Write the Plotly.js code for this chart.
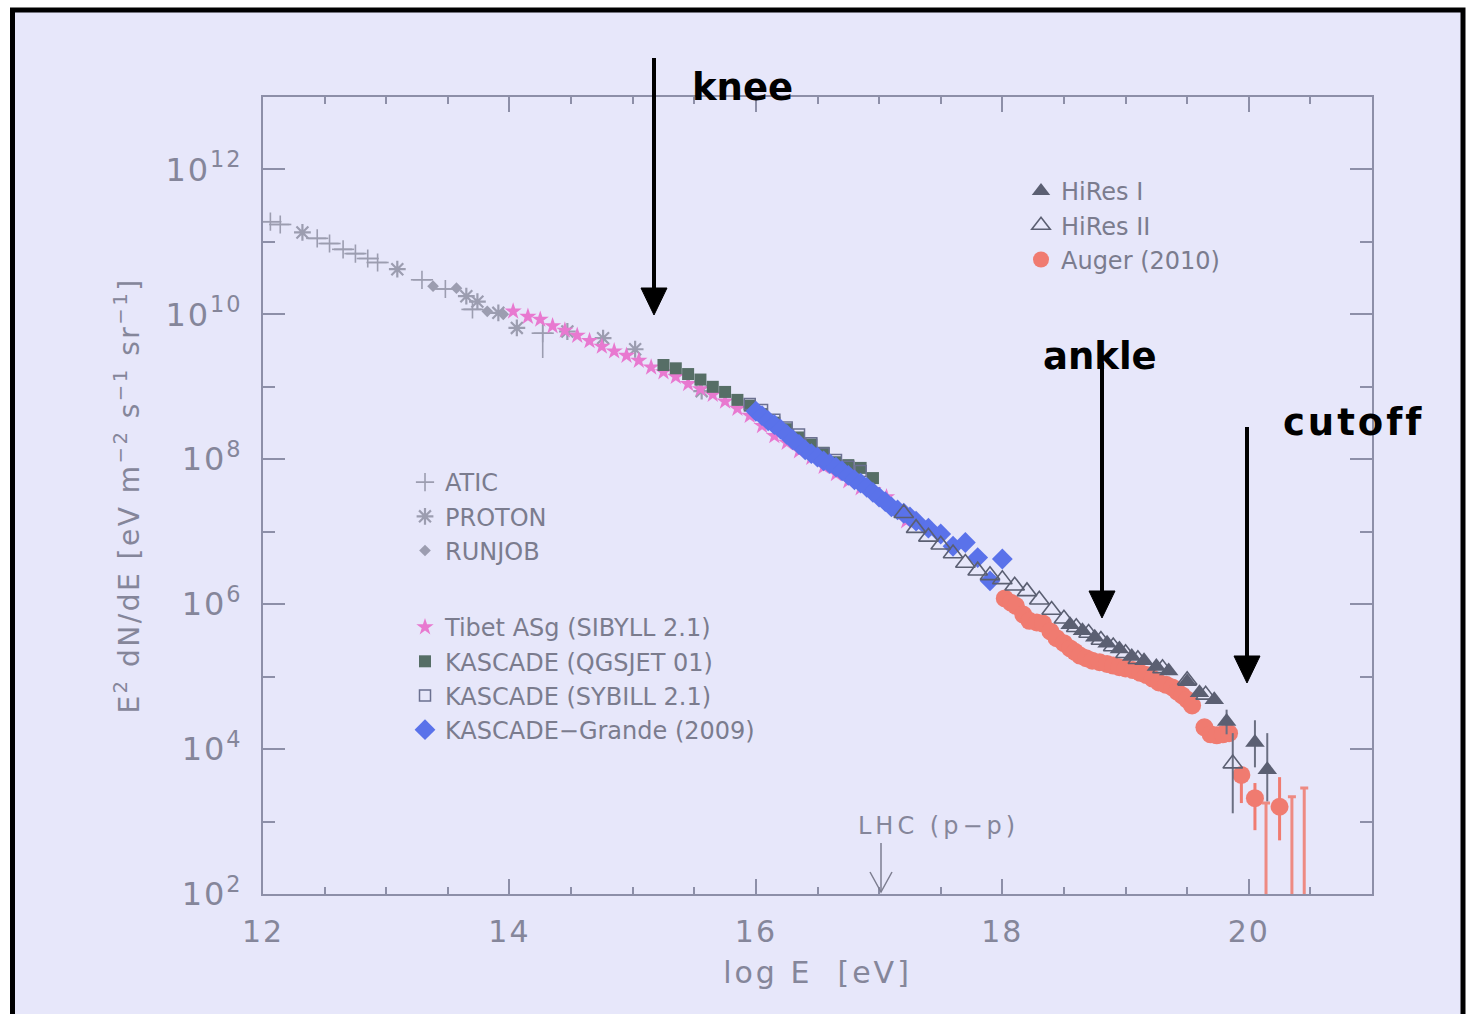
<!DOCTYPE html>
<html>
<head>
<meta charset="utf-8">
<script src="https://cdn.plot.ly/plotly-3.0.1.min.js"></script>
<style>
html,body{margin:0;padding:0;background:#ffffff;}
#chart{width:1466px;height:1014px;}
#chart .xtick text{letter-spacing:2px;}
#chart .ytick text{letter-spacing:2px;}
#chart .xtitle{letter-spacing:3px;}
#chart .ytitle{letter-spacing:2.5px;}
#chart .annotation[data-index="2"] text{letter-spacing:3px;}
#chart .annotation[data-index="3"] text{letter-spacing:4px;}
</style>
</head>
<body>
<div id="chart"></div>
<script>
// ---------------- data (log E [eV], E^2 dN/dE [eV m^-2 s^-1 sr^-1]) ----------------
const atic_x = [12.06, 12.14, 12.44, 12.54, 12.65, 12.75, 12.85, 12.93, 13.29, 13.48, 13.70, 14.27];
const atic_y = [1.9e11, 1.74e11, 1.12e11, 9.5e10, 7.9e10, 6.9e10, 5.9e10, 5.2e10, 3.0e10, 2.24e10, 1.17e10, 5.5e9];
const atic_hi = [null, null, null, null, null, null, null, null, null, null, null, 7.1e9];
const atic_lo = [null, null, null, null, null, null, null, null, null, null, null, 2.5e9];

const proton_x = [12.32, 13.09, 13.65, 13.74, 13.91, 14.06, 14.47, 14.76, 15.02, 15.56];
const proton_y = [1.35e11, 4.2e10, 1.78e10, 1.5e10, 1.05e10, 6.5e9, 5.8e9, 4.7e9, 3.3e9, 8.7e8];

const runjob_x = [13.38, 13.57, 13.82, 13.95];
const runjob_y = [2.45e10, 2.3e10, 1.1e10, 1.0e10];

const tibet_x = [14.03, 14.15, 14.25, 14.35, 14.45, 14.55, 14.65, 14.75, 14.85, 14.95, 15.05, 15.15, 15.25, 15.35, 15.45, 15.55, 15.65, 15.75, 15.85, 15.95, 16.05, 16.15, 16.25, 16.35, 16.45, 16.55, 16.65, 16.75, 16.85, 16.95, 17.06, 17.22];
const tibet_y = [1.1e10, 9.3e9, 8.5e9, 6.9e9, 6.0e9, 5.1e9, 4.3e9, 3.6e9, 3.1e9, 2.7e9, 2.3e9, 1.86e9, 1.6e9, 1.38e9, 1.1e9, 9.3e8, 7.8e8, 6.3e8, 5.0e8, 4.0e8, 2.9e8, 2.1e8, 1.7e8, 1.3e8, 1.05e8, 7.9e7, 6.3e7, 5.0e7, 4.0e7, 3.8e7, 3.0e7, 1.4e7];

const kqgs_x = [15.25, 15.35, 15.45, 15.55, 15.65, 15.75, 15.85, 15.95, 16.05, 16.15, 16.25, 16.35, 16.45, 16.55, 16.65, 16.75, 16.85, 16.95];
const kqgs_y = [2.0e9, 1.8e9, 1.5e9, 1.26e9, 1.0e9, 8.5e8, 6.6e8, 5.5e8, 4.2e8, 3.2e8, 2.6e8, 2.0e8, 1.6e8, 1.23e8, 9.1e7, 8.3e7, 7.6e7, 5.5e7];

const ksib_x = [15.95, 16.05, 16.15, 16.25, 16.35, 16.45, 16.55, 16.65, 16.75, 16.85];
const ksib_y = [5.8e8, 4.8e8, 3.5e8, 2.75e8, 2.2e8, 1.66e8, 1.2e8, 9.8e7, 7.9e7, 6.9e7];

const grande_x = [16.00, 16.05, 16.10, 16.15, 16.20, 16.25, 16.30, 16.35, 16.40, 16.45, 16.50, 16.55, 16.60, 16.65, 16.70, 16.75, 16.80, 16.85, 16.90, 16.95, 17.00, 17.05, 17.10, 17.15, 17.20, 17.25, 17.30, 17.40, 17.50, 17.60, 17.70, 17.80, 17.90, 18.00];
const grande_y = [4.6e8, 4.0e8, 3.4e8, 3.0e8, 2.6e8, 2.2e8, 1.86e8, 1.6e8, 1.35e8, 1.2e8, 1.07e8, 9.5e7, 8.7e7, 7.8e7, 6.9e7, 6.0e7, 5.2e7, 4.7e7, 4.1e7, 3.5e7, 3.0e7, 2.6e7, 2.2e7, 2.0e7, 1.8e7, 1.6e7, 1.4e7, 1.12e7, 9.3e6, 6.3e6, 7.1e6, 4.4e6, 2.1e6, 4.2e6];

const hires2_x = [17.20, 17.30, 17.40, 17.50, 17.60, 17.70, 17.80, 17.90, 18.00, 18.10, 18.20, 18.30, 18.40, 18.50, 18.60, 18.70, 18.80, 18.90, 19.00, 19.10, 19.30, 19.50, 19.65, 19.87];
const hires2_y = [1.8e7, 1.12e7, 8.5e6, 6.6e6, 5.0e6, 3.7e6, 2.9e6, 2.5e6, 2.2e6, 1.8e6, 1.5e6, 1.15e6, 8.3e5, 6.3e5, 4.8e5, 4.0e5, 3.2e5, 2.6e5, 2.1e5, 1.74e5, 1.3e5, 8.9e4, 5.6e4, 6.3e3];
const hires2_hi = [null, null, null, null, null, null, null, null, null, null, null, null, null, null, null, null, null, null, null, null, null, null, null, 1.66e4];
const hires2_lo = [null, null, null, null, null, null, null, null, null, null, null, null, null, null, null, null, null, null, null, null, null, null, null, 1.3e3];

const hires1_x = [18.55, 18.65, 18.75, 18.85, 18.95, 19.05, 19.15, 19.25, 19.35, 19.50, 19.60, 19.72, 19.82, 20.05, 20.15];
const hires1_y = [5.2e5, 4.3e5, 3.5e5, 2.9e5, 2.4e5, 1.9e5, 1.66e5, 1.38e5, 1.2e5, 8.5e4, 6.0e4, 4.8e4, 2.4e4, 1.23e4, 5.2e3];
const hires1_hi = [null, null, null, null, null, null, null, null, null, null, null, null, 3.5e4, 2.5e4, 1.66e4];
const hires1_lo = [null, null, null, null, null, null, null, null, null, null, null, null, 1.6e4, 5.6e3, 1.9e3];

const auger_x = [18.02, 18.07, 18.11, 18.17, 18.22, 18.28, 18.33, 18.39, 18.44, 18.50, 18.55, 18.59, 18.63, 18.68, 18.73, 18.79, 18.85, 18.90, 18.95, 19.00, 19.06, 19.12, 19.17, 19.22, 19.27, 19.33, 19.38, 19.42, 19.46, 19.50, 19.54, 19.64, 19.69, 19.74, 19.79, 19.84, 19.94, 20.05, 20.25];
const auger_y = [1.2e6, 1.05e6, 9.5e5, 7.2e5, 5.9e5, 5.6e5, 5.4e5, 4.2e5, 3.4e5, 2.9e5, 2.45e5, 2.2e5, 1.95e5, 1.8e5, 1.66e5, 1.58e5, 1.5e5, 1.42e5, 1.35e5, 1.3e5, 1.23e5, 1.13e5, 1.05e5, 9.4e4, 8.3e4, 7.7e4, 7.1e4, 6.2e4, 5.5e4, 4.8e4, 4.0e4, 2.0e4, 1.6e4, 1.55e4, 1.6e4, 1.66e4, 4.4e3, 2.1e3, 1.6e3];
const auger_hi = [null, null, null, null, null, null, null, null, null, null, null, null, null, null, null, null, null, null, null, null, null, null, null, null, null, null, null, null, null, null, null, null, null, null, null, null, 5.6e3, 3.4e3, 4.1e3];
const auger_lo = [null, null, null, null, null, null, null, null, null, null, null, null, null, null, null, null, null, null, null, null, null, null, null, null, null, null, null, null, null, null, null, null, null, null, null, null, 1.8e3, 7.6e2, 5.5e2];

// Auger bins whose lower bound falls below the plotted range
const augerLim_x = [20.14, 20.35, 20.45];
const augerLim_top = [1.8e3, 2.2e3, 2.9e3];
const augerLim_low = [10, 10, 10];

const xTickVals = [12, 14, 16, 18, 20];
const xTickText = ['12', '14', '16', '18', '20'];
const xMinorVals = [12.5, 13, 13.5, 14.5, 15, 15.5, 16.5, 17, 17.5, 18.5, 19, 19.5, 20.5];
const yTickVals = [1e2, 1e4, 1e6, 1e8, 1e10, 1e12];
const yTickText = ['10<sup>2</sup>', '10<sup>4</sup>', '10<sup>6</sup>', '10<sup>8</sup>', '10<sup>10</sup>', '10<sup>12</sup>'];
const yMinorVals = [1e3, 1e5, 1e7, 1e9, 1e11];

// ---------------- style ----------------
const BG = '#e7e7fa';
const AXIS = '#8d8fa8';
const TXT = '#85869a';
const GREY = '#9c9db0';
const FONT = 'DejaVu Sans, sans-serif';

function errBars(y, hi, lo, color, thick, w) {
  return {
    type: 'data', symmetric: false, visible: true,
    array: y.map((v, i) => hi[i] == null ? 0 : hi[i] - v),
    arrayminus: y.map((v, i) => lo[i] == null ? 0 : v - lo[i]),
    color: color, thickness: thick, width: w
  };
}

const traces = [
  {name: 'ATIC', x: atic_x, y: atic_y, mode: 'markers', type: 'scatter', legend: 'legend2', legendrank: 1,
   marker: {symbol: 'cross-thin-open', size: 13, color: GREY, line: {color: GREY, width: 1.6}},
   error_x: {type: 'constant', value: 0.09, color: GREY, thickness: 1.6, width: 0},
   error_y: errBars(atic_y, atic_hi, atic_lo, GREY, 1.6, 0)},
  {name: 'PROTON', x: proton_x, y: proton_y, mode: 'markers', type: 'scatter', legend: 'legend2', legendrank: 2,
   marker: {symbol: 'asterisk-open', size: 14, color: GREY, line: {color: GREY, width: 2.2}}},
  {name: 'RUNJOB', x: runjob_x, y: runjob_y, mode: 'markers', type: 'scatter', legend: 'legend2', legendrank: 3,
   marker: {symbol: 'diamond', size: 9, color: GREY}},
  {name: 'Tibet ASg (SIBYLL 2.1)', x: tibet_x, y: tibet_y, mode: 'markers', type: 'scatter', legend: 'legend3', legendrank: 1,
   marker: {symbol: 'star', size: 13, color: '#e879d0'}},
  {name: 'KASCADE (QGSJET 01)', x: kqgs_x, y: kqgs_y, mode: 'markers', type: 'scatter', legend: 'legend3', legendrank: 2,
   marker: {symbol: 'square', size: 12, color: '#566e66'}},
  {name: 'KASCADE (SYBILL 2.1)', x: ksib_x, y: ksib_y, mode: 'markers', type: 'scatter', legend: 'legend3', legendrank: 3,
   marker: {symbol: 'square-open', size: 11, color: '#6b7090', line: {width: 1.5}}},
  {name: 'KASCADE\u2212Grande (2009)', x: grande_x, y: grande_y, mode: 'markers', type: 'scatter', legend: 'legend3', legendrank: 4,
   marker: {symbol: 'diamond', size: 16, color: '#5a72ea'}},
  {name: 'Auger (2010)', x: auger_x, y: auger_y, mode: 'markers', type: 'scatter', legend: 'legend', legendrank: 3,
   marker: {symbol: 'circle', size: 18, color: '#f07b70'},
   error_y: errBars(auger_y, auger_hi, auger_lo, '#f07b70', 3, 0)},
  {name: 'Auger limits', x: augerLim_x, y: augerLim_top, mode: 'markers', type: 'scatter', showlegend: false,
   marker: {size: 1, color: 'rgba(0,0,0,0)'},
   error_y: {type: 'data', symmetric: false, array: augerLim_top.map(() => 0),
             arrayminus: augerLim_top.map((v, i) => v - augerLim_low[i]), color: '#ee8a82', thickness: 3, width: 4}},
  {name: 'HiRes II', x: hires2_x, y: hires2_y, mode: 'markers', type: 'scatter', legend: 'legend', legendrank: 2,
   marker: {symbol: 'triangle-up-open', size: 17, color: '#5b5f72', line: {width: 1.6}},
   error_y: errBars(hires2_y, hires2_hi, hires2_lo, '#6b6f82', 2, 0)},
  {name: 'HiRes I', x: hires1_x, y: hires1_y, mode: 'markers', type: 'scatter', legend: 'legend', legendrank: 1,
   marker: {symbol: 'triangle-up', size: 17, color: '#5b5f72'},
   error_y: errBars(hires1_y, hires1_hi, hires1_lo, '#6b6f82', 2, 0)}
];

// plot box in pixels: x 263..1372, y 97..894
const PL = 263, PR = 1372, PT = 97, PB = 894;
const px = v => (v - PL) / (PR - PL);
const py = v => (PB - v) / (PB - PT);
const pt = (x, y) => px(x).toFixed(5) + ',' + py(y).toFixed(5);

const legendFont = {family: FONT, size: 24, color: '#7b7c8e'};
const commonLegend = {bgcolor: 'rgba(0,0,0,0)', borderwidth: 0, font: legendFont, xanchor: 'left', yanchor: 'top',
  traceorder: 'normal', tracegroupgap: 0, itemwidth: 30};

const bigFont = {family: 'DejaVu Sans, sans-serif', size: 37, color: '#000000'};

// black annotation arrows (decoration, pixel positions of the page)
function arrowShapes(x, yTail, yTip) {
  return [
    {type: 'line', xref: 'paper', yref: 'paper', x0: px(x), x1: px(x), y0: py(yTail), y1: py(yTip - 24),
     line: {color: '#000000', width: 4}},
    {type: 'path', xref: 'paper', yref: 'paper',
     path: 'M' + pt(x - 13, yTip - 27) + ' L' + pt(x + 13, yTip - 27) + ' L' + pt(x, yTip) + ' Z',
     fillcolor: '#000000', line: {color: '#000000', width: 1}}
  ];
}

const layout = {
  width: 1466, height: 1014,
  paper_bgcolor: '#ffffff', plot_bgcolor: BG,
  margin: {l: PL, r: 1466 - PR, t: PT, b: 1014 - PB, pad: 0},
  showlegend: true,
  xaxis: {
    type: 'linear', range: [12, 21], autorange: false,
    showline: true, linecolor: AXIS, linewidth: 2, mirror: 'ticks',
    ticks: 'inside', ticklen: 15, tickwidth: 2, tickcolor: AXIS,
    tickmode: 'array', tickvals: xTickVals, ticktext: xTickText,
    minor: {tickmode: 'array', tickvals: xMinorVals, ticks: 'inside', ticklen: 7, tickwidth: 2, tickcolor: AXIS, showgrid: false},
    showgrid: false, zeroline: false,
    tickfont: {family: FONT, size: 30, color: TXT}, ticklabelstandoff: 10,
    title: {text: 'log E  [eV]', font: {family: FONT, size: 30, color: TXT}, standoff: 14}
  },
  yaxis: {
    type: 'log', range: [2, 13], autorange: false,
    showline: true, linecolor: AXIS, linewidth: 2, mirror: 'ticks',
    ticks: 'inside', ticklen: 22, tickwidth: 2, tickcolor: AXIS,
    tickmode: 'array', tickvals: yTickVals, ticktext: yTickText,
    minor: {tickmode: 'array', tickvals: yMinorVals, ticks: 'inside', ticklen: 12, tickwidth: 2, tickcolor: AXIS, showgrid: false},
    showgrid: false, zeroline: false,
    tickfont: {family: FONT, size: 32, color: TXT}, ticklabelstandoff: 12,
    title: {text: 'E<sup>2</sup> dN/dE [eV m<sup>\u22122</sup> s<sup>\u22121</sup> sr<sup>\u22121</sup>]',
            font: {family: FONT, size: 28, color: TXT}, standoff: 26}
  },
  legend: Object.assign({x: px(1021), y: py(169)}, commonLegend),
  legend2: Object.assign({x: px(405), y: py(460)}, commonLegend),
  legend3: Object.assign({x: px(405), y: py(605)}, commonLegend),
  shapes: [
    {type: 'rect', xref: 'paper', yref: 'paper', layer: 'below',
     x0: px(12.5), x1: px(1463), y0: py(1030), y1: py(10),
     line: {color: '#000000', width: 5}, fillcolor: BG}
  ]
  .concat(arrowShapes(654, 58, 315))
  .concat(arrowShapes(1102, 363, 618))
  .concat(arrowShapes(1247, 427, 683))
  .concat([
    {type: 'line', xref: 'paper', yref: 'paper', x0: px(881), x1: px(881), y0: py(843), y1: py(892),
     line: {color: '#7d7e90', width: 1.5}},
    {type: 'path', xref: 'paper', yref: 'paper',
     path: 'M' + pt(870, 872) + ' L' + pt(881, 892) + ' L' + pt(892, 872),
     line: {color: '#7d7e90', width: 1.5}}
  ]),
  annotations: [
    {xref: 'paper', yref: 'paper', x: px(742), y: py(87), text: '<b>knee</b>', showarrow: false, font: bigFont, xanchor: 'center', yanchor: 'middle'},
    {xref: 'paper', yref: 'paper', x: px(1100), y: py(357), text: '<b>ankle</b>', showarrow: false, font: bigFont, xanchor: 'center', yanchor: 'middle'},
    {xref: 'paper', yref: 'paper', x: px(1354), y: py(422), text: '<b>cutoff</b>', showarrow: false, font: bigFont, xanchor: 'center', yanchor: 'middle'},
    {xref: 'paper', yref: 'paper', x: px(939), y: py(826), text: 'LHC (p\u2212p)', showarrow: false,
     font: {family: FONT, size: 24, color: TXT}, xanchor: 'center', yanchor: 'middle'}
  ]
};

Plotly.newPlot('chart', traces, layout, {displayModeBar: false, staticPlot: true});
</script>
</body>
</html>
